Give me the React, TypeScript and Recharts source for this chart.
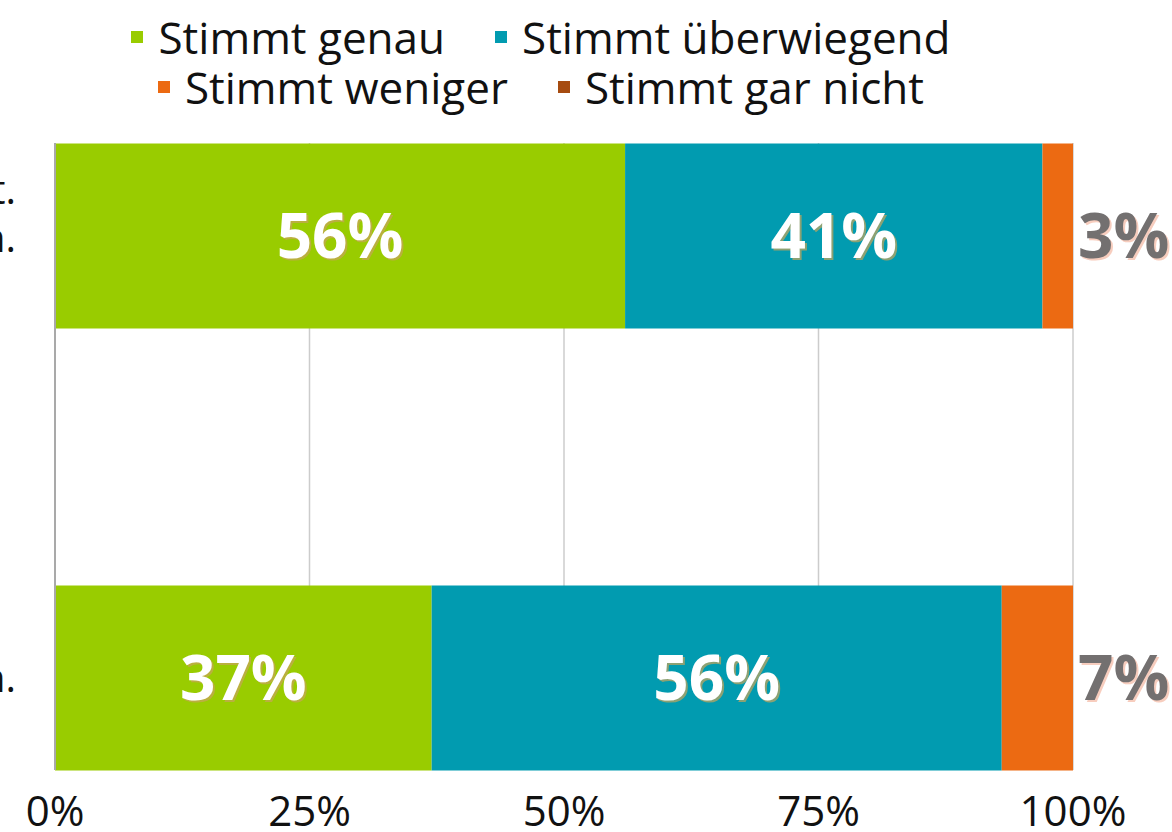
import { Bar, BarChart, CartesianGrid, LabelList, Legend, XAxis, YAxis } from 'recharts'

const categories = [
  'Die Veranstaltung war gut vorbereitet.\nDie Inhalte wurden verständlich vermittelt, ich konnte viel lernen.',
  'Ich kann das Gelernte in meiner Arbeit gut anwenden.',
]
const genau = [56, 37]
const ueberwiegend = [41, 56]
const weniger = [3, 7]
const garNicht = [0, 0]
const xTicks = [0, 25, 50, 75, 100]

const SERIES = [
  { key: 'genau', name: 'Stimmt genau', color: '#99cc00' },
  { key: 'ueberwiegend', name: 'Stimmt überwiegend', color: '#019bb0' },
  { key: 'weniger', name: 'Stimmt weniger', color: '#ec6a12' },
  { key: 'garNicht', name: 'Stimmt gar nicht', color: '#a64b10' },
]

const data = categories.map((name, i) => ({
  name,
  genau: genau[i],
  ueberwiegend: ueberwiegend[i],
  weniger: weniger[i],
  garNicht: garNicht[i],
}))

const FONT = '"Open Sans", "DejaVu Sans", sans-serif'

function CategoryTick(props: any) {
  const { x, y, payload } = props
  const lines = String(payload.value).split('\n')
  const lh = 48
  // multi-line labels sit a bit above the bar centre, like in the source
  const y0 = y - ((lines.length - 1) * lh) / 2 - (lines.length - 1) * 22
  return (
    <text x={x} y={y0} textAnchor="end" fontSize={40} fontFamily={FONT} fill="#111">
      {lines.map((l, i) => (
        <tspan key={i} x={x} dy={i === 0 ? '0.35em' : lh}>
          {l}
        </tspan>
      ))}
    </text>
  )
}

// white bold labels inside, grey label right of the bar for the small segment
function makeLabel(outside: boolean) {
  return (props: any) => {
    const { x, y, width, height, value } = props
    if (!value) return null
    const cy = y + height / 2
    const tx = outside ? x + width + 5 : x + width / 2
    const anchor = outside ? 'start' : 'middle'
    const fill = outside ? '#737070' : '#ffffff'
    const shadow = outside ? '#f5b9a3' : '#c9a45a'
    return (
      <g>
        <text x={tx + 2} y={cy + 2} dy="0.36em" textAnchor={anchor} fontSize={62} fontWeight={700} fontFamily={FONT} fill={shadow} opacity={0.7}>
          {`${value}%`}
        </text>
        <text x={tx} y={cy} dy="0.36em" textAnchor={anchor} fontSize={62} fontWeight={700} fontFamily={FONT} fill={fill}>
          {`${value}%`}
        </text>
      </g>
    )
  }
}

function LegendRows() {
  const rows = [SERIES.slice(0, 2), SERIES.slice(2, 4)]
  return (
    <div style={{ fontFamily: FONT, fontSize: 44, color: '#111' }}>
      {rows.map((row, ri) => (
        <div key={ri} style={{ display: 'flex', justifyContent: 'center', height: 50, alignItems: 'center' }}>
          {row.map((s, i) => (
            <div key={s.key} style={{ display: 'flex', alignItems: 'center', marginLeft: i === 0 ? 0 : 50 }}>
              <span style={{ width: 12, height: 12, background: s.color, marginRight: 15, display: 'inline-block' }} />
              <span style={{ lineHeight: '50px' }}>{s.name}</span>
            </div>
          ))}
        </div>
      ))}
    </div>
  )
}

export default function App() {
  return (
    <div style={{ width: 1172, height: 832, background: '#fff' }}>
      <style>{'body{margin:0}'}</style>
      <BarChart
        width={1172}
        height={832}
        data={data}
        layout="vertical"
        margin={{ top: 43, right: 99, bottom: 0, left: 0 }}
      >
        <CartesianGrid horizontal={false} stroke="#cccccc" strokeWidth={1.5} />
        <XAxis
          type="number"
          domain={[0, 100]}
          ticks={xTicks}
          tickFormatter={(v: number) => `${v}%`}
          axisLine={false}
          tickLine={false}
          tickSize={0}
          tickMargin={26}
          height={62}
          interval={0}
          tick={{ fill: '#111', fontSize: 42, fontFamily: FONT }}
        />
        <YAxis
          type="category"
          dataKey="name"
          width={55}
          axisLine={{ stroke: '#a9a9a9', strokeWidth: 2 }}
          tickLine={false}
          tickSize={0}
          tickMargin={39}
          padding={{ top: -128.5, bottom: -128.5 }}
          tick={<CategoryTick />}
        />
        <Legend
          verticalAlign="top"
          align="left"
          height={100}
          wrapperStyle={{ top: 12, left: 0, width: 1082 }}
          content={<LegendRows />}
        />
        {SERIES.map((s) => (
          <Bar
            key={s.key}
            dataKey={s.key}
            name={s.name}
            stackId="a"
            fill={s.color}
            barSize={185}
            isAnimationActive={false}
          >
            <LabelList dataKey={s.key} content={makeLabel(s.key === 'weniger')} />
          </Bar>
        ))}
      </BarChart>
    </div>
  )
}
